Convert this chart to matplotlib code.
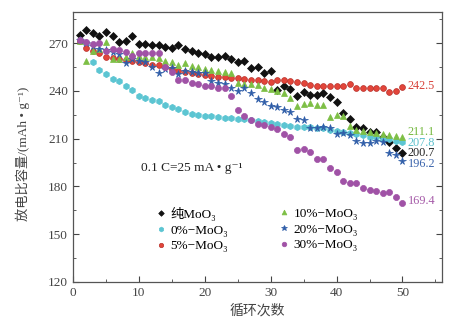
import numpy as np
import matplotlib
matplotlib.use("Agg")
import matplotlib.pyplot as plt
from matplotlib.ticker import MultipleLocator

plt.rcParams['font.family'] = ['Liberation Serif', 'DejaVu Serif', 'Noto Sans CJK SC']

# 循环次数
cycles = np.arange(1, 51)

# 各样品放电比容量 (mAh/g)
pure_moo3 = [275, 278, 276.5, 274.4, 277, 274.6, 270.6, 271.5, 274.4, 269.4,
             269.3, 269, 269, 267.7, 266.9, 268.5, 266.4, 265, 264, 263,
             261, 261, 262, 260, 258, 259, 254.5, 254.7, 251.4, 252.6,
             240.5, 243.2, 241, 237, 239.5, 237.4, 237.5, 238.8, 236.3, 233.2,
             225.9, 222.5, 217.5, 216.8, 214.4, 214, 211.2, 208, 204, 200.7]
moo3_0 = [272, 270, 258, 253, 250.5, 247.5, 246, 243, 240.5, 237,
          235.5, 234.5, 233.5, 231, 229.7, 228.5, 227, 225.5, 225, 224.5,
          224, 223.8, 223.2, 222.8, 222.3, 222.3, 222, 221.3, 220.7, 220,
          219.4, 218.4, 218, 217.5, 217, 217, 216.5, 216.5, 215.5, 215,
          214, 213.5, 213, 212, 211, 211, 210, 209.5, 208.7, 207.8]
moo3_5 = [271, 267, 265, 263.5, 261.5, 260.6, 260, 259.5, 259, 258.3,
          257.5, 256.5, 256, 255, 254, 252.6, 252, 251, 250.5, 250,
          249.4, 249, 248.5, 248, 247.8, 247.5, 247, 246.8, 246, 245.6,
          246.8, 246.6, 246.3, 245.8, 244.7, 243.6, 243.3, 243.2, 243.2, 243,
          243, 244.3, 241.6, 241.6, 241.6, 241.6, 241.6, 239.5, 240.2, 242.5]
moo3_10 = [271, 258.5, 265, 266, 270.5, 260, 259.8, 261, 263.5, 262,
           261.5, 261, 260.4, 258.6, 258, 256.2, 257.5, 255.5, 255, 253.7,
           253, 252.4, 252, 251.4, 244.7, 244.5, 244, 243.6, 242, 241,
           240, 238.8, 235.5, 230.7, 231.7, 232.3, 231.2, 231, 223.5, 224.8,
           224, 217.8, 215.5, 214.5, 214, 213.5, 213, 212.2, 211.6, 211.1]
moo3_20 = [272, 270, 268, 266, 265.5, 264.5, 263.2, 257.6, 259.7, 259,
           258.2, 255.2, 251.2, 253.6, 254.3, 250.5, 252.3, 252, 251.3, 251,
           246, 245, 244.3, 241.6, 240.2, 241.6, 238.6, 235, 232.8, 230.8,
           229.8, 228, 226.5, 222.3, 221.4, 216.5, 216.5, 217.6, 216.4, 212.8,
           213.4, 212, 208.5, 207, 207.5, 208.7, 208, 200.8, 200, 196.2]
moo3_30 = [272, 270.8, 269.6, 270.3, 265.2, 266.3, 265.7, 264.6, 262, 263.5,
           263.5, 263.5, 263.7, 255.1, 252, 246.8, 247, 244.7, 244.3, 243.3,
           243, 242, 241.8, 236.7, 228.2, 224.5, 221.8, 219, 218.6, 217.5,
           215.8, 213, 211.2, 202.6, 203.8, 201.5, 197, 197.5, 191.7, 189.2,
           183.6, 182, 182.3, 179, 178, 177.4, 175.8, 176.8, 173.5, 169.4]

labels = ['纯MoO₃', '0%−MoO₃', '5%−MoO₃',
          '10%−MoO₃', '20%−MoO₃', '30%−MoO₃']
end_labels = ['200.7', '207.8', '242.5', '211.1', '196.2', '169.4']
end_offsets = [0.0, -0.3, 0.5, 3.0, -2.4, 1.4]  # 末端标注微调(数值单位)

series = [pure_moo3, moo3_0, moo3_5, moo3_10, moo3_20, moo3_30]
colors = ['#111111', '#5cc5d2', '#e2453a', '#7dbf45', '#2f5da8', '#a052a6']
text_colors = ['#222222', '#5cc0cc', '#d8423a', '#74b83f', '#3d66ad', '#a55aa8']
markers = ['D', 'h', 'o', '^', '*', 'o']
sizes = [3.8, 4.6, 4.2, 4.6, 5.6, 4.4]
edges = ['#111111', '#5cc5d2', '#b8302a', '#7dbf45', '#2f5da8', '#a052a6']

fig = plt.figure(figsize=(4.62, 3.24), dpi=100)
ax = fig.add_axes([73 / 462, 1 - 282 / 324, 369 / 462, 270 / 324])

handles = []
for s, c, m, ms, ec, lab in zip(series, colors, markers, sizes, edges, labels):
    h, = ax.plot(cycles, s, linestyle='none', marker=m, markersize=ms,
                 color=c, markeredgecolor=ec, markeredgewidth=0.5, label=lab)
    handles.append(h)

for s, t, tc, dy in zip(series, end_labels, text_colors, end_offsets):
    ax.text(cycles[-1] + 0.75, s[-1] + dy, t, color=tc, fontsize=8.8,
            va='center', ha='left')

ax.text(10.3, 191.5, '0.1 C=25 mA • g⁻¹', fontsize=9.6, color='#222222',
        va='center', ha='left')

leg_kw = dict(loc='center left', frameon=False, fontsize=9.5,
              handlelength=0.8, handletextpad=0.3, labelspacing=0.26,
              borderpad=0, borderaxespad=0, numpoints=1, markerscale=0.75)
leg1 = ax.legend(handles[:3], labels[:3], bbox_to_anchor=(0.224, 0.194), **leg_kw)
ax.add_artist(leg1)
ax.legend(handles[3:], labels[3:], bbox_to_anchor=(0.558, 0.194), **leg_kw)

ax.set_xlim(0, 56)
ax.set_ylim(120, 289.5)
ax.xaxis.set_major_locator(MultipleLocator(10))
ax.xaxis.set_minor_locator(MultipleLocator(5))
ax.yaxis.set_major_locator(MultipleLocator(30))
ax.yaxis.set_minor_locator(MultipleLocator(15))
ax.tick_params(which='both', direction='in', right=True, top=False,
               colors='#444444', labelsize=9.5)
ax.tick_params(which='major', length=4)
ax.tick_params(which='minor', length=2)
for sp in ax.spines.values():
    sp.set_color('#555555')
    sp.set_linewidth(0.9)

ax.set_xlabel('循环次数', fontsize=10, color='#444444')
ax.xaxis.set_label_coords(0.5, -0.083)
ax.set_ylabel('放电比容量/(mAh • g⁻¹)', fontsize=9.5, color='#444444')
ax.yaxis.set_label_coords(-0.117, 0.476)

fig.savefig('out.png', dpi=100)
